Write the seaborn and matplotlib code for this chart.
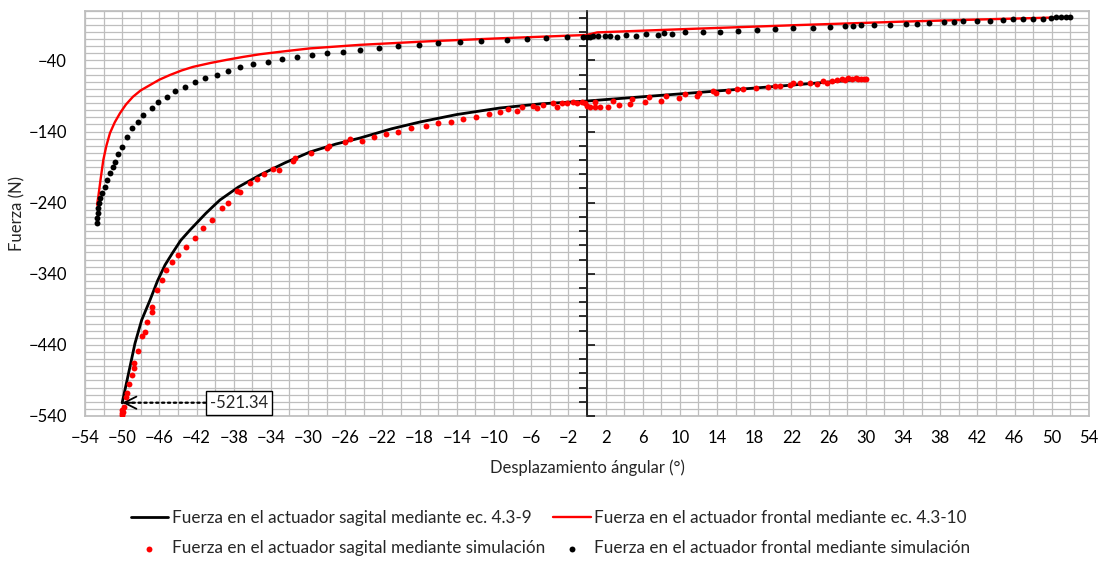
import numpy as np
import pandas as pd
import seaborn as sns
import matplotlib
matplotlib.use('Agg')
import matplotlib.pyplot as plt
from matplotlib.ticker import MultipleLocator, FixedLocator, NullFormatter

# curva teorica, actuador sagital (ec. 4.3-9)
sag_eq_x = [-50.0, -49.7, -49.16, -48.62, -47.9, -47.0, -46.2, -45.39, -44.6, -43.7, -42.7, -41.8, -41.0,
            -40.2, -39.48, -37.5, -35.17, -32.5, -29.8, -27.0, -24.4, -21.0, -17.96, -14.0, -9.36, -5.0,
            0.0, 10.0, 20.76, 30.0]
sag_eq_y = [-521.34, -503.4, -470.7, -437.7, -405.0, -376.8, -350, -327.6, -311, -293, -278.4, -266, -255,
            -245, -236.2, -218, -201, -184, -168.7, -157.5, -149, -136, -126.5, -116, -106.8, -101,
            -97, -87, -76, -66]

# curva teorica, actuador frontal (ec. 4.3-10)
front_eq_x = [-52.7, -52.57, -52.3, -52.03, -51.7, -51.31, -50.8, -50.23, -49.6, -48.84, -48.0, -47.0,
              -46.0, -44.86, -43.6, -42.38, -40.5, -38.72, -37.0, -35.17, -32.5, -29.8, -24.4, -17.0,
              -9.36, 0.0, 1.1, 10.0, 22.9, 33.6, 44.4, 52.0]
front_eq_y = [-243, -231.6, -205, -180, -160, -142, -127, -114, -102, -91, -82, -74.5,
              -67, -60.4, -54, -49, -43.5, -39, -35, -31.2, -27, -23, -18, -13,
              -8.8, -4.1, -0.5, 3.9, 9.9, 14.5, 18.4, 21]

# simulacion, actuador sagital
sag_sim_x = [-50.05, -50.0, -50.0, -49.94, -49.8, -49.59, -49.51, -49.23, -48.98, -48.73, -48.73, -48.27,
             -47.9, -47.55, -47.3, -46.82, -46.82, -46.25, -45.7, -45.3, -44.6, -44.0, -43.1, -42.2,
             -41.3, -40.3, -39.26, -38.6, -37.68, -37.33, -36.25, -35.53, -34.74, -33.74, -33.1, -31.66,
             -31.41, -29.72, -28.0, -27.72, -26.03, -25.49, -24.2, -22.9, -21.6, -20.3, -18.9, -17.3,
             -16.0, -14.6, -13.3, -11.9, -10.5, -9.3, -8.46, -7.56, -7.02, -5.77, -5.41, -4.7, -3.62,
             -3.26, -2.72, -2.18, -1.47, -1.11, -0.57, -0.21, 0.03, 0.32, 0.86, 0.86, 1.4, 2.29, 2.83,
             3.44, 4.63, 4.81, 6.24, 6.7, 7.96, 8.5, 9.9, 10.54, 11.8, 12.05, 13.59, 13.88, 15.2, 16.1,
             16.82, 18.18, 19.5, 20.23, 20.76, 21.84, 22.2, 22.92, 24.0, 24.71, 25.42, 25.78, 26.32,
             26.86, 27.4, 27.76, 28.11, 28.5, 28.9, 29.2, 29.5, 29.8, 30.0]
sag_sim_y = [-538.6, -536, -531, -534, -527, -512.9, -507.2, -495, -482.3, -472.9, -465, -448.2,
             -427.5, -421.4, -407.4, -393.3, -386.3, -362.8, -348.7, -334.6, -323.4, -313.6, -302, -289.6,
             -275.6, -264.3, -247.5, -240.4, -223.1, -224.5, -211.9, -207.1, -199.6, -192.6, -194, -181.3,
             -176.7, -169.7, -163.5, -159.8, -155, -150.8, -153, -148, -144, -140, -135, -132,
             -128, -126, -122, -119, -115, -112, -108.6, -111, -105.8, -104, -107.2, -102.5, -100.5,
             -104.9, -100.2, -100.2, -97.9, -100.2, -97.9, -100.2, -104, -105, -105, -97.9, -105, -105, -96.5,
             -102.6, -101.2, -94.2, -98.8, -91.8, -96.5, -89.5, -93.2, -87.5, -89.9, -85.3, -82.5, -86.1, -82.5, -80.5,
             -80.1, -79.1, -77.7, -75.9, -75.9, -74.4, -72, -71.2, -71.2, -73, -68.4, -72, -68.4,
             -67.4, -66.4, -67.4, -65, -66, -65, -66.5, -65.5, -66.5, -66]

# simulacion, actuador frontal
front_sim_x = [-52.74, -52.7, -52.6, -52.55, -52.45, -52.39, -52.2, -51.85, -51.6, -51.31, -51.0, -50.77,
               -50.4, -50.05, -49.51, -48.98, -48.27, -47.73, -46.82, -46.11, -45.21, -44.32, -43.24, -42.17,
               -41.09, -39.83, -38.58, -37.33, -35.9, -34.28, -32.84, -31.23, -29.61, -28.0, -26.21, -24.42,
               -22.4, -20.3, -18.1, -16.0, -13.7, -11.4, -8.57, -6.49, -4.41, -2.18, -0.4, 0.0, 0.3, 0.7,
               1.2, 1.94, 2.5, 3.23, 4.2, 5.27, 6.35, 7.64, 8.29, 9.11, 10.54, 12.45, 14.31, 16.25, 18.26,
               20.23, 22.16, 24.28, 26.14, 27.76, 28.62, 29.44, 30.87, 32.6, 34.32, 35.53, 36.82, 38.4,
               39.48, 40.48, 41.92, 43.35, 44.78, 45.86, 46.93, 48.01, 49.09, 49.9, 50.5, 51.0, 51.5, 52.0]
front_sim_y = [-268, -262, -255, -248, -240, -233, -226, -218, -208, -198, -190, -183,
               -172, -161, -147, -135, -126, -117, -107, -98, -91, -82.5, -77, -70,
               -65, -60.4, -54.3, -49.6, -45.3, -41.7, -38.3, -34.6, -32.3, -29.9, -27.6, -25.2,
               -22.4, -19.6, -18.2, -15.4, -14, -12.6, -11.2, -10.2, -8.8, -7.4, -6.5, -6.5, -6.5, -6,
               -6, -5.5, -5.5, -6.5, -4.1, -5, -3.1, -4.1, -1.7, -2.7, -0.3, -0.3, 0.5, 1.5, 2.9,
               3.9, 5.3, 6.2, 6.7, 8.5, 8.5, 9.5, 9.5, 10.4, 11.8, 11.8, 12.8, 13.7,
               13.7, 15.1, 15.6, 16, 17, 18, 18, 18.8, 18.8, 20, 20.5, 20.8, 20.8, 20.8]

y_major = [-540, -440, -340, -240, -140, -40]

sns.set_theme(style='white')
plt.rcParams['font.family'] = ['Lato', 'DejaVu Sans']

fig = plt.figure(figsize=(11.01, 5.61), dpi=100)
ax = fig.add_axes([0.0772, 0.2585, 0.9118, 0.7224])

sns.lineplot(x=sag_eq_x, y=sag_eq_y, color='black', lw=2, sort=False, ax=ax,
             label='Fuerza en el actuador sagital mediante ec. 4.3-9', zorder=3)
sns.lineplot(x=front_eq_x, y=front_eq_y, color='#FF0000', lw=1.7, sort=False, ax=ax,
             label='Fuerza en el actuador frontal mediante ec. 4.3-10', zorder=3)
sns.scatterplot(x=sag_sim_x, y=sag_sim_y, color='#FF0000', s=18, linewidth=0, ax=ax,
                label='Fuerza en el actuador sagital mediante simulación', zorder=4)
sns.scatterplot(x=front_sim_x, y=front_sim_y, color='black', s=18, linewidth=0, ax=ax,
                label='Fuerza en el actuador frontal mediante simulación', zorder=4)

ax.set_xlim(-54, 54)
ax.set_ylim(-540, 30)
ax.set_xticks(np.arange(-54, 55, 4))
ax.xaxis.set_minor_locator(MultipleLocator(2))
ax.yaxis.set_major_locator(FixedLocator(y_major))
ax.yaxis.set_minor_locator(MultipleLocator(10))
ax.grid(which='both', color='#BEBEBE', lw=0.9)
ax.set_axisbelow(True)
ax.tick_params(which='both', length=0, labelsize=12, colors='black')
ax.tick_params(axis='x', pad=10)
ax.tick_params(axis='y', pad=13)
for sp in ax.spines.values():
    sp.set_color('#BEBEBE')

# eje vertical en x = 0
ax.axvline(0, color='black', lw=1.3, zorder=2.5)
sec = ax.secondary_yaxis(0.5)
sec.set_zorder(2.6)
sec.yaxis.set_major_locator(FixedLocator(y_major))
sec.yaxis.set_major_formatter(NullFormatter())
sec.yaxis.set_minor_locator(MultipleLocator(20))
sec.tick_params(which='major', direction='out', length=6, width=1.1, color='black')
sec.tick_params(which='minor', direction='in', length=6, width=1.1, color='black')
sec.spines['left'].set_color('black')
sec.spines['left'].set_linewidth(1.3)

ax.set_xlabel('Desplazamiento ángular (°)', fontsize=12, labelpad=10)
ax.set_ylabel('Fuerza (N)', fontsize=12, labelpad=2)

# etiqueta del punto inicial
ax.annotate('', xy=(sag_eq_x[0], sag_eq_y[0]), xytext=(60, 0), textcoords='offset points',
            arrowprops=dict(arrowstyle='-', linestyle=':', color='black', lw=1.6, shrinkA=0, shrinkB=0))
ax.annotate('', xy=(sag_eq_x[0], sag_eq_y[0]), xytext=(8, 0), textcoords='offset points',
            arrowprops=dict(arrowstyle='->', color='black', lw=1.3, mutation_scale=22, shrinkA=0, shrinkB=0))
ax.annotate('-521.34', xy=(sag_eq_x[0], sag_eq_y[0]), xytext=(84, 0), textcoords='offset points',
            ha='center', va='center', fontsize=12, zorder=6,
            bbox=dict(boxstyle='square,pad=0.25', fc='white', ec='black', lw=1))

h, l = ax.get_legend_handles_labels()
ax.get_legend().remove()
order = [0, 2, 1, 3]
fig.legend([h[i] for i in order], [l[i] for i in order], loc='center', bbox_to_anchor=(0.5, 0.05),
           ncol=2, frameon=False, fontsize=12.3, handlelength=2.2, handletextpad=0.2,
           columnspacing=0.5, labelspacing=0.85, markerscale=1.0)

fig.savefig('out.png', dpi=100)
